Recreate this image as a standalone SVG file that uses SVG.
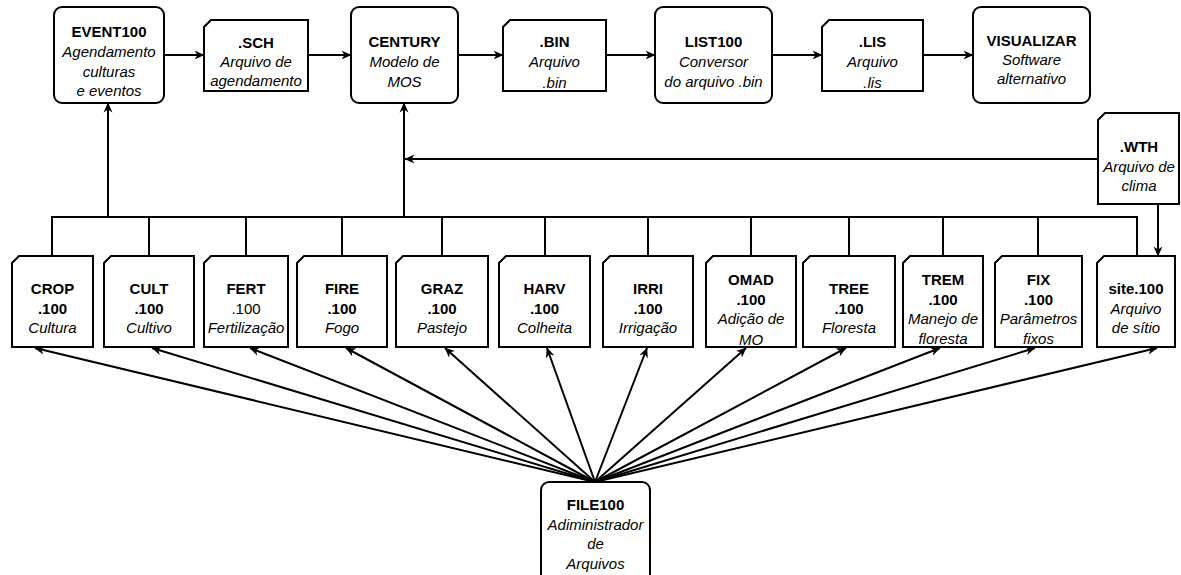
<svg xmlns="http://www.w3.org/2000/svg" width="1181" height="575" viewBox="0 0 1181 575">
<style>
.box{fill:#fff;stroke:#000;stroke-width:2}
.ln{fill:none;stroke:#000;stroke-width:2}
text{font-family:"Liberation Sans",Arial,Helvetica,sans-serif;font-size:15px;fill:#000;text-anchor:middle}
.b{font-weight:bold}
.i{font-style:italic}
</style>
<defs>
<marker id="ar" viewBox="0 0 10 10" refX="9.5" refY="5" markerWidth="10" markerHeight="10" markerUnits="userSpaceOnUse" orient="auto">
<path d="M0,0.5 L10,5 L0,9.5 L3,5 Z" fill="#000"/>
</marker>
</defs>
<rect width="1181" height="575" fill="#fff"/>
<g id="connectors">
<line class="ln" x1="164" y1="55" x2="204" y2="55" marker-end="url(#ar)"/>
<line class="ln" x1="308" y1="55" x2="351" y2="55" marker-end="url(#ar)"/>
<line class="ln" x1="458" y1="55" x2="503" y2="55" marker-end="url(#ar)"/>
<line class="ln" x1="606" y1="55" x2="655" y2="55" marker-end="url(#ar)"/>
<line class="ln" x1="772" y1="55" x2="822" y2="55" marker-end="url(#ar)"/>
<line class="ln" x1="923" y1="55" x2="973" y2="55" marker-end="url(#ar)"/>
<path class="ln" d="M52,256 V217 H1137 V256"/>
<path class="ln" d="M149,217 V256 M246,217 V256 M342,217 V256 M442,217 V256 M545,217 V256 M648,217 V256 M751,217 V256 M849,217 V256 M943,217 V256 M1038,217 V256"/>
<line class="ln" x1="108" y1="217" x2="108" y2="103" marker-end="url(#ar)"/>
<line class="ln" x1="404" y1="217" x2="404" y2="103" marker-end="url(#ar)"/>
<line class="ln" x1="1098" y1="159" x2="405" y2="159" marker-end="url(#ar)"/>
<line class="ln" x1="1158" y1="204" x2="1158" y2="256" marker-end="url(#ar)"/>
<g>
<line class="ln" x1="595" y1="482" x2="35" y2="348" marker-end="url(#ar)"/>
<line class="ln" x1="595" y1="482" x2="152" y2="348" marker-end="url(#ar)"/>
<line class="ln" x1="595" y1="482" x2="250" y2="348" marker-end="url(#ar)"/>
<line class="ln" x1="595" y1="482" x2="346" y2="348" marker-end="url(#ar)"/>
<line class="ln" x1="595" y1="482" x2="445" y2="348" marker-end="url(#ar)"/>
<line class="ln" x1="595" y1="482" x2="547" y2="348" marker-end="url(#ar)"/>
<line class="ln" x1="595" y1="482" x2="647" y2="348" marker-end="url(#ar)"/>
<line class="ln" x1="595" y1="482" x2="746" y2="348" marker-end="url(#ar)"/>
<line class="ln" x1="595" y1="482" x2="846" y2="348" marker-end="url(#ar)"/>
<line class="ln" x1="595" y1="482" x2="940" y2="348" marker-end="url(#ar)"/>
<line class="ln" x1="595" y1="482" x2="1035" y2="348" marker-end="url(#ar)"/>
<line class="ln" x1="595" y1="482" x2="1157" y2="348" marker-end="url(#ar)"/>
</g>
</g>
<g id="event100">
<rect class="box" x="54" y="7" width="110" height="96" rx="8"/>
<text x="109" y="37" class="b">EVENT100</text>
<text x="109" y="57" class="i">Agendamento</text>
<text x="109" y="76.5" class="i">culturas</text>
<text x="109" y="96" class="i">e eventos</text>
</g>
<g id="sch">
<path class="box" d="M211,20 H308 V91 H204 V27 Z"/>
<text x="256" y="48" class="b">.SCH</text>
<text x="256" y="67" class="i">Arquivo de</text>
<text x="256" y="86" class="i">agendamento</text>
</g>
<g id="century">
<rect class="box" x="351" y="7" width="107" height="96" rx="8"/>
<text x="404.5" y="47" class="b">CENTURY</text>
<text x="404.5" y="67" class="i">Modelo de</text>
<text x="404.5" y="87" class="i">MOS</text>
</g>
<g id="bin">
<path class="box" d="M510,20 H606 V91 H503 V27 Z"/>
<text x="554.5" y="47" class="b">.BIN</text>
<text x="554.5" y="67" class="i">Arquivo</text>
<text x="554.5" y="88" class="i">.bin</text>
</g>
<g id="list100">
<rect class="box" x="655" y="7" width="117" height="96" rx="8"/>
<text x="713.5" y="47" class="b">LIST100</text>
<text x="713.5" y="67" class="i">Conversor</text>
<text x="713.5" y="87" class="i">do arquivo .bin</text>
</g>
<g id="lis">
<path class="box" d="M829,20 H923 V91 H822 V27 Z"/>
<text x="872.5" y="47" class="b">.LIS</text>
<text x="872.5" y="67" class="i">Arquivo</text>
<text x="872.5" y="88" class="i">.lis</text>
</g>
<g id="visualizar">
<rect class="box" x="973" y="7" width="117" height="96" rx="8"/>
<text x="1031.5" y="46" class="b">VISUALIZAR</text>
<text x="1031.5" y="65" class="i">Software</text>
<text x="1031.5" y="84" class="i">alternativo</text>
</g>
<g id="wth">
<path class="box" d="M1105,113 H1179 V204 H1098 V120 Z"/>
<text x="1139" y="152" class="b">.WTH</text>
<text x="1139" y="172" class="i">Arquivo de</text>
<text x="1139" y="191" class="i">clima</text>
</g>
<g id="crop">
<path class="box" d="M19,256 H93 V347 H12 V263 Z"/>
<text x="52.5" y="294" class="b">CROP</text>
<text x="52.5" y="314" class="b">.100</text>
<text x="52.5" y="333" class="i">Cultura</text>
</g>
<g id="cult">
<path class="box" d="M111,256 H194 V347 H104 V263 Z"/>
<text x="149" y="294" class="b">CULT</text>
<text x="149" y="314" class="b">.100</text>
<text x="149" y="333" class="i">Cultivo</text>
</g>
<g id="fert">
<path class="box" d="M211,256 H288 V347 H204 V263 Z"/>
<text x="246" y="294" class="b">FERT</text>
<text x="246" y="314">.100</text>
<text x="246" y="333" class="i">Fertilização</text>
</g>
<g id="fire">
<path class="box" d="M304,256 H387 V347 H297 V263 Z"/>
<text x="342" y="294" class="b">FIRE</text>
<text x="342" y="314" class="b">.100</text>
<text x="342" y="333" class="i">Fogo</text>
</g>
<g id="graz">
<path class="box" d="M403,256 H488 V347 H396 V263 Z"/>
<text x="442" y="294" class="b">GRAZ</text>
<text x="442" y="314" class="b">.100</text>
<text x="442" y="333" class="i">Pastejo</text>
</g>
<g id="harv">
<path class="box" d="M506,256 H590 V347 H499 V263 Z"/>
<text x="544.5" y="294" class="b">HARV</text>
<text x="544.5" y="314" class="b">.100</text>
<text x="544.5" y="333" class="i">Colheita</text>
</g>
<g id="irri">
<path class="box" d="M610,256 H693 V347 H603 V263 Z"/>
<text x="648" y="294" class="b">IRRI</text>
<text x="648" y="314" class="b">.100</text>
<text x="648" y="333" class="i">Irrigação</text>
</g>
<g id="omad">
<path class="box" d="M713,256 H796 V347 H706 V263 Z"/>
<text x="751" y="285" class="b">OMAD</text>
<text x="751" y="305" class="b">.100</text>
<text x="751" y="324" class="i">Adição de</text>
<text x="751" y="345" class="i">MO</text>
</g>
<g id="tree">
<path class="box" d="M810,256 H895 V347 H803 V263 Z"/>
<text x="849" y="294" class="b">TREE</text>
<text x="849" y="314" class="b">.100</text>
<text x="849" y="333" class="i">Floresta</text>
</g>
<g id="trem">
<path class="box" d="M910,256 H983 V347 H903 V263 Z"/>
<text x="943" y="285" class="b">TREM</text>
<text x="943" y="305" class="b">.100</text>
<text x="943" y="324" class="i">Manejo de</text>
<text x="943" y="344" class="i">floresta</text>
</g>
<g id="fix">
<path class="box" d="M1002,256 H1082 V347 H995 V263 Z"/>
<text x="1038.5" y="285" class="b">FIX</text>
<text x="1038.5" y="305" class="b">.100</text>
<text x="1038.5" y="324" class="i">Parâmetros</text>
<text x="1038.5" y="344" class="i">fixos</text>
</g>
<g id="site100">
<path class="box" d="M1104,256 H1175 V347 H1097 V263 Z"/>
<text x="1136" y="294" class="b">site.100</text>
<text x="1136" y="314" class="i">Arquivo</text>
<text x="1136" y="333" class="i">de sítio</text>
</g>
<g id="file100">
<rect class="box" x="541" y="482" width="109" height="100" rx="8"/>
<text x="595.5" y="510" class="b">FILE100</text>
<text x="595.5" y="530" class="i">Adiministrador</text>
<text x="595.5" y="549" class="i">de</text>
<text x="595.5" y="568.5" class="i">Arquivos</text>
</g>
</svg>
